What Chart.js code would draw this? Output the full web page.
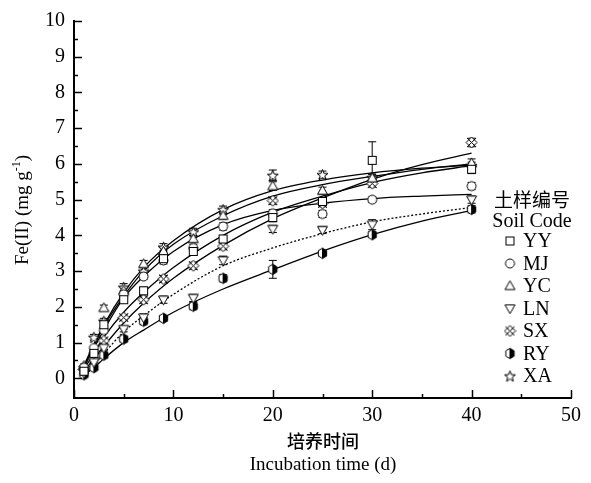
<!DOCTYPE html>
<html>
<head>
<meta charset="utf-8">
<script src="https://cdn.jsdelivr.net/npm/chart.js@4"></script>
<style>
  body { margin: 0; background: #fff; }
  #wrap { width: 591px; height: 483px; }
</style>
</head>
<body>
<div id="wrap"><canvas id="c" width="591" height="483"></canvas></div>
<script>
// sampling days
const days = [1, 2, 3, 5, 7, 9, 12, 15, 20, 25, 30, 40];

// measured Fe(II), mg/g
const yy = [0.2, 0.7, 1.5, 2.2, 2.45, 3.35, 3.55, 3.9, 4.5, 4.95, 6.1, 5.85];
const mj = [0.3, 0.85, 1.35, 2.35, 2.85, 3.3, 3.65, 4.25, 4.62, 4.6, 5.0, 5.38];
const yc = [0.35, 0.8, 1.97, 2.45, 3.2, 3.55, 3.9, 4.55, 5.38, 5.25, 5.6, 6.02];
const ln = [0.15, 0.45, 0.85, 1.38, 1.7, 2.2, 2.25, 3.3, 4.18, 4.15, 4.3, 5.0];
const sx = [0.25, 0.55, 1.05, 1.7, 2.2, 2.78, 3.15, 3.7, 4.97, 4.9, 5.45, 6.6];
const ry = [0.1, 0.3, 0.65, 1.1, 1.6, 1.68, 2.02, 2.8, 3.05, 3.5, 4.02, 4.73];
const xa = [0.3, 1.15, 1.6, 2.55, 3.0, 3.67, 4.1, 4.72, 5.68, 5.7, 5.62, 5.95];

// error bars (sd)
const yyErr = [0.05, 0.08, 0.1, 0.1, 0.1, 0.1, 0.1, 0.1, 0.12, 0.1, 0.52, 0.12];
const mjErr = [0.05, 0.05, 0.08, 0.08, 0.08, 0.1, 0.1, 0.1, 0.1, 0.1, 0.08, 0.1];
const ycErr = [0.05, 0.05, 0.08, 0.08, 0.1, 0.1, 0.1, 0.1, 0.12, 0.1, 0.1, 0.12];
const lnErr = [0.05, 0.05, 0.08, 0.08, 0.1, 0.1, 0.1, 0.12, 0.1, 0.1, 0.14, 0.1];
const sxErr = [0.05, 0.05, 0.08, 0.08, 0.1, 0.1, 0.1, 0.1, 0.1, 0.1, 0.1, 0.12];
const ryErr = [0.05, 0.05, 0.08, 0.08, 0.1, 0.08, 0.1, 0.1, 0.25, 0.08, 0.08, 0.1];
const xaErr = [0.05, 0.08, 0.08, 0.1, 0.1, 0.1, 0.1, 0.1, 0.15, 0.1, 0.1, 0.1];

// fitted curves
const fitDays = [0.7, 1, 2, 3, 5, 7, 10, 15, 20, 25, 30, 35, 40];
const yyFit = [0.1, 0.25, 0.7, 1.15, 1.85, 2.4, 3.1, 4.0, 4.65, 5.1, 5.48, 5.75, 5.95];
const mjFit = [0.1, 0.3, 0.85, 1.35, 2.25, 2.85, 3.55, 4.3, 4.7, 4.9, 5.03, 5.1, 5.15];
const ycFit = [0.1, 0.3, 0.9, 1.45, 2.3, 3.0, 3.75, 4.55, 5.1, 5.42, 5.65, 5.85, 6.0];
const lnFit = [0.08, 0.15, 0.4, 0.7, 1.3, 1.75, 2.35, 3.15, 3.65, 4.05, 4.38, 4.6, 4.78];
const sxFit = [0.08, 0.2, 0.55, 0.9, 1.55, 2.1, 2.8, 3.72, 4.47, 5.05, 5.57, 5.98, 6.3];
const ryFit = [0.05, 0.1, 0.3, 0.55, 1.0, 1.35, 1.85, 2.5, 3.04, 3.56, 4.02, 4.4, 4.7];
const xaFit = [0.12, 0.35, 0.95, 1.5, 2.4, 3.1, 3.85, 4.72, 5.25, 5.55, 5.75, 5.88, 5.97];

const codes = ["YY", "MJ", "YC", "LN", "SX", "RY", "XA"];
const yTicks = [0, 1, 2, 3, 4, 5, 6, 7, 8, 9, 10];
const xTicks = [0, 10, 20, 30, 40, 50];

const serif = "'Liberation Serif', 'DejaVu Serif', serif";
const cjk = "'Noto Sans CJK SC', sans-serif";

//small canvases used as point markers
function marker(draw) {
  const c = document.createElement("canvas");
  c.width = 13; c.height = 13;
  const g = c.getContext("2d");
  g.translate(6.5, 6.5);
  g.lineWidth = 1;
  g.strokeStyle = "#000";
  g.fillStyle = "#fff";
  draw(g);
  return c;
}

const markers = {
  YY: marker(g => { g.fillRect(-4, -4, 8, 8); g.strokeRect(-4, -4, 8, 8); }),
  MJ: marker(g => { g.beginPath(); g.arc(0, 0, 4.5, 0, Math.PI * 2); g.fill(); g.stroke(); }),
  YC: marker(g => {
    g.beginPath(); g.moveTo(0, -5.2); g.lineTo(5, 3.6); g.lineTo(-5, 3.6); g.closePath(); g.fill(); g.stroke();
  }),
  LN: marker(g => {
    g.beginPath(); g.moveTo(0, 5.2); g.lineTo(5, -3.6); g.lineTo(-5, -3.6); g.closePath(); g.fill(); g.stroke();
  }),
  SX: marker(g => {
    g.beginPath(); g.moveTo(0, -5.5); g.lineTo(5.5, 0); g.lineTo(0, 5.5); g.lineTo(-5.5, 0); g.closePath(); g.fill(); g.stroke();
    g.beginPath(); g.moveTo(-4.5, -4.5); g.lineTo(4.5, 4.5); g.moveTo(4.5, -4.5); g.lineTo(-4.5, 4.5); g.stroke();
  }),
  RY: marker(g => {
    const path = () => {
      g.beginPath();
      for (let i = 0; i < 6; i++) {
        const a = Math.PI / 6 + i * Math.PI / 3;
        const px = 4.8 * Math.cos(a), py = 5.2 * Math.sin(a);
        i ? g.lineTo(px, py) : g.moveTo(px, py);
      }
      g.closePath();
    };
    path(); g.fill(); g.stroke();
    g.save(); g.beginPath(); g.rect(-0.5, -7, 8, 14); g.clip();
    path(); g.fillStyle = "#000"; g.fill(); g.restore();
  }),
  XA: marker(g => {
    g.beginPath();
    for (let i = 0; i < 10; i++) {
      const r = i % 2 ? 2.4 : 5.8;
      const a = -Math.PI / 2 + i * Math.PI / 5;
      const px = r * Math.cos(a), py = r * Math.sin(a) + 0.6;
      i ? g.lineTo(px, py) : g.moveTo(px, py);
    }
    g.closePath(); g.fill(); g.stroke();
  })
};

const measured = { YY: yy, MJ: mj, YC: yc, LN: ln, SX: sx, RY: ry, XA: xa };
const errors = { YY: yyErr, MJ: mjErr, YC: ycErr, LN: lnErr, SX: sxErr, RY: ryErr, XA: xaErr };
const fits = { YY: yyFit, MJ: mjFit, YC: ycFit, LN: lnFit, SX: sxFit, RY: ryFit, XA: xaFit };

const datasets = [];
codes.forEach(code => {
  datasets.push({
    label: code + " fit",
    type: "line",
    data: fitDays.map((d, i) => ({ x: d, y: fits[code][i] })),
    borderColor: "#000",
    borderWidth: 1.3,
    borderDash: code === "LN" ? [2, 2] : [],
    pointRadius: 0,
    cubicInterpolationMode: "monotone",
    fill: false,
    order: 2
  });
});
codes.forEach(code => {
  datasets.push({
    label: code,
    type: "scatter",
    data: days.map((d, i) => ({ x: d, y: measured[code][i] })),
    pointStyle: markers[code],
    errs: errors[code],
    order: 1
  });
});

// error bars, inner ticks, titles and the legend
const decor = {
  id: "decor",
  beforeDatasetsDraw(chart) {
    const ctx = chart.ctx, xs = chart.scales.x, ys = chart.scales.y;
    ctx.save();
    ctx.strokeStyle = "#000";
    ctx.lineWidth = 1;
    chart.data.datasets.forEach(ds => {
      if (!ds.errs) return;
      ds.data.forEach((p, i) => {
        const e = ds.errs[i];
        const px = xs.getPixelForValue(p.x);
        const top = ys.getPixelForValue(p.y + e), bot = ys.getPixelForValue(p.y - e);
        ctx.beginPath();
        ctx.moveTo(px, top); ctx.lineTo(px, bot);
        ctx.moveTo(px - 4, top); ctx.lineTo(px + 4, top);
        ctx.moveTo(px - 4, bot); ctx.lineTo(px + 4, bot);
        ctx.stroke();
      });
    });
    ctx.restore();
  },
  afterDraw(chart) {
    const ctx = chart.ctx, xs = chart.scales.x, ys = chart.scales.y;
    const area = chart.chartArea;
    ctx.save();
    ctx.strokeStyle = "#000";
    ctx.lineWidth = 1.5;
    // y ticks pointing in
    for (let v = 0; v <= 10; v += 0.5) {
      const py = Math.round(ys.getPixelForValue(v)) + 0.5;
      const len = Number.isInteger(v) ? 8 : 4;
      ctx.beginPath(); ctx.moveTo(area.left, py); ctx.lineTo(area.left + len, py); ctx.stroke();
    }
    // x ticks pointing up
    for (let v = 0; v <= 50; v += 5) {
      const px = Math.round(xs.getPixelForValue(v)) + 0.5;
      const len = v % 10 === 0 ? 8 : 4;
      ctx.beginPath(); ctx.moveTo(px, area.bottom); ctx.lineTo(px, area.bottom - len); ctx.stroke();
    }

    ctx.fillStyle = "#000";
    // y title
    ctx.save();
    ctx.translate(28, 210);
    ctx.rotate(-Math.PI / 2);
    ctx.textBaseline = "alphabetic";
    const t1 = "Fe(II) (mg g", sup = "-1", t2 = ")";
    ctx.font = "19px " + serif;
    const w1 = ctx.measureText(t1).width, w2 = ctx.measureText(t2).width;
    ctx.font = "12px " + serif;
    const ws = ctx.measureText(sup).width;
    let x0 = -(w1 + ws + w2) / 2;
    ctx.font = "19px " + serif;
    ctx.fillText(t1, x0, 0);
    ctx.font = "12px " + serif;
    ctx.fillText(sup, x0 + w1, -8);
    ctx.font = "19px " + serif;
    ctx.fillText(t2, x0 + w1 + ws, 0);
    ctx.restore();

    // x titles
    ctx.textAlign = "center";
    ctx.textBaseline = "middle";
    ctx.font = "500 18px " + cjk;
    ctx.fillText("培养时间", 323, 441);
    ctx.font = "19px " + serif;
    ctx.fillText("Incubation time (d)", 323, 465);

    // legend
    ctx.font = "19px " + cjk;
    ctx.fillText("土样编号", 532, 200);
    ctx.font = "20px " + serif;
    ctx.fillText("Soil Code", 532, 222);
    ctx.textAlign = "left";
    codes.forEach((code, i) => {
      const cy = 241 + i * 22.5;
      ctx.drawImage(markers[code], 510 - 6.5, cy - 6.5);
      ctx.fillText(code, 523, cy + 1);
    });
    ctx.restore();
  }
};

new Chart(document.getElementById("c"), {
  type: "scatter",
  data: { datasets },
  options: {
    responsive: false,
    animation: false,
    layout: { padding: { left: 0, right: 20, top: 16, bottom: 0 } },
    plugins: { legend: { display: false }, tooltip: { enabled: false } },
    elements: { point: { radius: 5 } },
    scales: {
      x: {
        type: "linear",
        min: 0,
        max: 50,
        afterBuildTicks: s => { s.ticks = xTicks.map(v => ({ value: v })); },
        afterFit: s => { s.height = 85; },
        grid: { display: false, drawTicks: false },
        border: { display: true, color: "#000", width: 2 },
        ticks: { color: "#000", padding: 6, font: { family: serif, size: 20 } }
      },
      y: {
        type: "linear",
        min: -0.55,
        max: 10,
        afterBuildTicks: s => { s.ticks = yTicks.map(v => ({ value: v })); },
        afterFit: s => { s.width = 74; },
        grid: { display: false, drawTicks: false },
        border: { display: true, color: "#000", width: 2 },
        ticks: { color: "#000", padding: 9, font: { family: serif, size: 20 } }
      }
    }
  },
  plugins: [decor]
});
</script>
</body>
</html>
